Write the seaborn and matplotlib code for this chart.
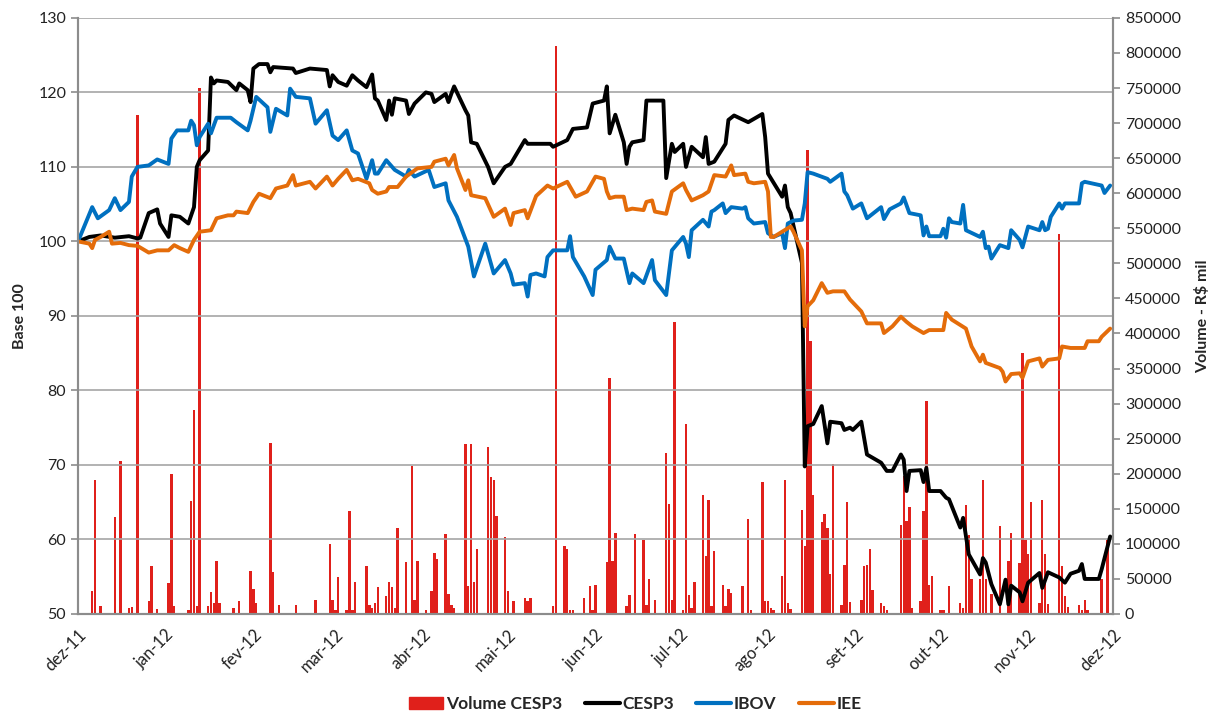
import pandas as pd
import seaborn as sns
import matplotlib.pyplot as plt
from matplotlib.patches import Patch
from matplotlib.lines import Line2D
from matplotlib.ticker import StrMethodFormatter

sns.set_style("white")
plt.rcParams['font.family'] = ['Lato', 'DejaVu Sans']

# ---- data ----
month_ticks = ["2011-12-01", "2012-01-01", "2012-02-01", "2012-03-01", "2012-04-01", "2012-05-01",
               "2012-06-01", "2012-07-01", "2012-08-01", "2012-09-01", "2012-10-01", "2012-11-01", "2012-12-01"]
month_labels = ["dez-11", "jan-12", "fev-12", "mar-12", "abr-12", "mai-12",
                "jun-12", "jul-12", "ago-12", "set-12", "out-12", "nov-12", "dez-12"]

ibov_dates = [
    "2011-12-01", "2011-12-06", "2011-12-08", "2011-12-12", "2011-12-14", "2011-12-16", "2011-12-19", "2011-12-20",
    "2011-12-22", "2011-12-26", "2011-12-29", "2012-01-02", "2012-01-03", "2012-01-05", "2012-01-09", "2012-01-10",
    "2012-01-11", "2012-01-12", "2012-01-13", "2012-01-16", "2012-01-17", "2012-01-19", "2012-01-24", "2012-01-26",
    "2012-01-30", "2012-01-31", "2012-02-02", "2012-02-06", "2012-02-07", "2012-02-09", "2012-02-13", "2012-02-14",
    "2012-02-16", "2012-02-21", "2012-02-23", "2012-02-27", "2012-02-29", "2012-03-02", "2012-03-05", "2012-03-07",
    "2012-03-09", "2012-03-12", "2012-03-14", "2012-03-15", "2012-03-16", "2012-03-19", "2012-03-22", "2012-03-26",
    "2012-03-27", "2012-03-29", "2012-04-03", "2012-04-05", "2012-04-09", "2012-04-10", "2012-04-13", "2012-04-17",
    "2012-04-19", "2012-04-23", "2012-04-26", "2012-04-30", "2012-05-02", "2012-05-03", "2012-05-07", "2012-05-08",
    "2012-05-09", "2012-05-11", "2012-05-14", "2012-05-15", "2012-05-17", "2012-05-22", "2012-05-23", "2012-05-24",
    "2012-05-28", "2012-05-31", "2012-06-01", "2012-06-05", "2012-06-06", "2012-06-08", "2012-06-11", "2012-06-13",
    "2012-06-14", "2012-06-18", "2012-06-21", "2012-06-22", "2012-06-26", "2012-06-28", "2012-07-02", "2012-07-03",
    "2012-07-04", "2012-07-05", "2012-07-09", "2012-07-11", "2012-07-12", "2012-07-13", "2012-07-16", "2012-07-17",
    "2012-07-19", "2012-07-23", "2012-07-24", "2012-07-25", "2012-07-27", "2012-07-31", "2012-08-01", "2012-08-03",
    "2012-08-06", "2012-08-07", "2012-08-08", "2012-08-10", "2012-08-13", "2012-08-14", "2012-08-15", "2012-08-17",
    "2012-08-22", "2012-08-23", "2012-08-27", "2012-08-28", "2012-08-29", "2012-08-31", "2012-09-03", "2012-09-05",
    "2012-09-10", "2012-09-11", "2012-09-13", "2012-09-17", "2012-09-18", "2012-09-20", "2012-09-24", "2012-09-25",
    "2012-09-26", "2012-09-27", "2012-10-01", "2012-10-02", "2012-10-03", "2012-10-04", "2012-10-05", "2012-10-08",
    "2012-10-09", "2012-10-10", "2012-10-15", "2012-10-16", "2012-10-17", "2012-10-18", "2012-10-19", "2012-10-22",
    "2012-10-25", "2012-10-26", "2012-10-29", "2012-10-30", "2012-11-01", "2012-11-05", "2012-11-06", "2012-11-07",
    "2012-11-08", "2012-11-09", "2012-11-12", "2012-11-13", "2012-11-14", "2012-11-19", "2012-11-20", "2012-11-21",
    "2012-11-27", "2012-11-28", "2012-11-30"]
ibov_values = [
    100.0, 104.6, 103.1, 104.2, 105.8, 104.2, 105.3, 108.7,
    110.0, 110.2, 111.0, 110.4, 113.8, 114.9, 114.9, 116.2,
    115.6, 112.9, 114.0, 115.8, 114.5, 116.6, 116.6, 116.0,
    114.9, 116.2, 119.4, 118.0, 114.7, 117.8, 116.9, 120.5,
    119.4, 119.2, 115.8, 117.6, 114.2, 113.6, 114.9, 112.2,
    111.8, 108.4, 110.9, 109.1, 109.1, 110.9, 109.6, 108.7,
    109.6, 108.7, 109.6, 107.3, 107.8, 105.5, 103.3, 99.3,
    95.3, 99.7, 95.7, 97.5, 95.7, 94.2, 94.4, 92.6,
    95.5, 95.7, 95.3, 97.9, 98.8, 98.8, 100.7, 97.9,
    95.3, 92.8, 96.2, 97.5, 99.3, 97.7, 97.7, 94.4,
    95.7, 94.4, 97.5, 94.8, 92.8, 98.8, 100.6, 99.7,
    97.9, 101.5, 102.9, 102.0, 104.0, 104.2, 105.1, 103.8,
    104.6, 104.4, 104.6, 103.1, 102.4, 102.6, 101.1, 100.6,
    101.1, 99.1, 102.4, 102.8, 102.9, 105.1, 109.3, 109.1,
    108.4, 108.0, 109.1, 106.7, 106.2, 104.4, 105.1, 103.1,
    104.6, 103.0, 104.3, 105.1, 105.9, 103.8, 103.5, 100.8,
    102.0, 100.7, 100.7, 101.7, 100.5, 103.1, 102.6, 102.4,
    104.9, 101.5, 100.6, 101.3, 99.1, 99.3, 97.7, 99.5,
    99.1, 101.5, 100.2, 99.2, 102.0, 101.5, 102.6, 101.5,
    101.7, 103.3, 105.1, 104.4, 105.1, 105.1, 107.8, 108.0,
    107.5, 106.5, 107.5]

cesp3_dates = [
    "2011-12-01", "2011-12-05", "2011-12-09", "2011-12-14", "2011-12-19", "2011-12-22", "2011-12-23", "2011-12-26",
    "2011-12-29", "2011-12-30", "2012-01-02", "2012-01-03", "2012-01-06", "2012-01-09", "2012-01-11", "2012-01-12",
    "2012-01-13", "2012-01-16", "2012-01-17", "2012-01-18", "2012-01-19", "2012-01-23", "2012-01-26", "2012-01-27",
    "2012-01-30", "2012-01-31", "2012-02-01", "2012-02-03", "2012-02-06", "2012-02-07", "2012-02-08", "2012-02-15",
    "2012-02-16", "2012-02-21", "2012-02-27", "2012-02-28", "2012-02-29", "2012-03-02", "2012-03-05", "2012-03-07",
    "2012-03-09", "2012-03-12", "2012-03-14", "2012-03-15", "2012-03-16", "2012-03-19", "2012-03-20", "2012-03-21",
    "2012-03-22", "2012-03-26", "2012-03-27", "2012-03-29", "2012-04-02", "2012-04-04", "2012-04-05", "2012-04-09",
    "2012-04-10", "2012-04-11", "2012-04-12", "2012-04-16", "2012-04-17", "2012-04-18", "2012-04-20", "2012-04-24",
    "2012-04-26", "2012-04-30", "2012-05-02", "2012-05-07", "2012-05-08", "2012-05-16", "2012-05-17", "2012-05-22",
    "2012-05-24", "2012-05-29", "2012-05-31", "2012-06-04", "2012-06-05", "2012-06-06", "2012-06-08", "2012-06-11",
    "2012-06-12", "2012-06-13", "2012-06-14", "2012-06-18", "2012-06-19", "2012-06-25", "2012-06-26", "2012-06-28",
    "2012-06-29", "2012-07-02", "2012-07-03", "2012-07-05", "2012-07-09", "2012-07-10", "2012-07-11", "2012-07-13",
    "2012-07-17", "2012-07-18", "2012-07-20", "2012-07-25", "2012-07-30", "2012-07-31", "2012-08-01", "2012-08-06",
    "2012-08-07", "2012-08-08", "2012-08-09", "2012-08-13", "2012-08-14", "2012-08-15", "2012-08-17", "2012-08-20",
    "2012-08-22", "2012-08-23", "2012-08-27", "2012-08-28", "2012-08-30", "2012-08-31", "2012-09-03", "2012-09-05",
    "2012-09-10", "2012-09-12", "2012-09-14", "2012-09-17", "2012-09-18", "2012-09-19", "2012-09-20", "2012-09-24",
    "2012-09-25", "2012-09-26", "2012-09-27", "2012-10-01", "2012-10-03", "2012-10-04", "2012-10-08", "2012-10-09",
    "2012-10-11", "2012-10-15", "2012-10-16", "2012-10-17", "2012-10-19", "2012-10-22", "2012-10-24", "2012-10-25",
    "2012-10-26", "2012-10-29", "2012-10-30", "2012-11-01", "2012-11-05", "2012-11-06", "2012-11-08", "2012-11-12",
    "2012-11-14", "2012-11-16", "2012-11-19", "2012-11-20", "2012-11-21", "2012-11-26", "2012-11-27", "2012-11-30"]
cesp3_values = [
    100.0, 100.6, 100.8, 100.5, 100.7, 100.4, 100.5, 103.8,
    104.3, 102.4, 100.6, 103.5, 103.3, 102.4, 104.6, 110.0,
    110.9, 112.2, 122.0, 121.2, 121.6, 121.4, 120.3, 121.2,
    120.3, 118.7, 123.2, 123.8, 123.8, 122.7, 123.4, 123.2,
    122.6, 123.2, 123.0, 120.8, 122.3, 121.4, 120.9, 122.3,
    121.6, 120.7, 122.4, 119.2, 118.9, 116.3, 118.9, 117.0,
    119.2, 118.9, 117.1, 118.5, 120.0, 119.8, 118.7, 119.8,
    118.7, 119.8, 120.8, 117.6, 116.9, 113.3, 113.1, 110.0,
    107.8, 110.0, 110.4, 113.6, 113.1, 113.1, 112.7, 113.6,
    115.1, 115.3, 118.5, 118.9, 120.8, 114.5, 117.0, 113.3,
    110.4, 112.7, 113.3, 113.6, 118.9, 118.9, 108.5, 113.1,
    112.0, 113.1, 110.0, 112.7, 111.3, 114.0, 110.4, 110.7,
    113.1, 116.3, 116.9, 116.0, 117.1, 114.0, 109.1, 106.0,
    107.5, 104.6, 103.8, 97.1, 69.8, 75.2, 75.5, 77.9,
    72.9, 75.8, 75.6, 74.7, 75.0, 74.7, 75.8, 71.4,
    70.3, 69.2, 69.2, 71.4, 70.7, 66.5, 69.2, 69.3,
    67.7, 69.6, 66.5, 66.5, 65.6, 65.4, 61.6, 62.9,
    58.0, 55.3, 57.5, 56.9, 54.0, 51.3, 54.6, 51.3,
    53.8, 52.9, 51.7, 54.2, 55.5, 53.5, 55.6, 54.9,
    54.2, 55.4, 55.8, 56.7, 54.7, 54.7, 56.0, 60.4]

iee_dates = [
    "2011-12-01", "2011-12-05", "2011-12-06", "2011-12-07", "2011-12-09", "2011-12-12", "2011-12-13", "2011-12-16",
    "2011-12-19", "2011-12-22", "2011-12-26", "2011-12-29", "2012-01-02", "2012-01-04", "2012-01-06", "2012-01-09",
    "2012-01-11", "2012-01-13", "2012-01-17", "2012-01-19", "2012-01-23", "2012-01-25", "2012-01-26", "2012-01-30",
    "2012-02-01", "2012-02-03", "2012-02-07", "2012-02-09", "2012-02-13", "2012-02-15", "2012-02-16", "2012-02-21",
    "2012-02-23", "2012-02-27", "2012-02-29", "2012-03-02", "2012-03-05", "2012-03-07", "2012-03-09", "2012-03-13",
    "2012-03-14", "2012-03-16", "2012-03-19", "2012-03-20", "2012-03-23", "2012-03-26", "2012-03-30", "2012-04-04",
    "2012-04-05", "2012-04-09", "2012-04-10", "2012-04-12", "2012-04-13", "2012-04-16", "2012-04-17", "2012-04-18",
    "2012-04-23", "2012-04-26", "2012-04-30", "2012-05-02", "2012-05-03", "2012-05-07", "2012-05-08", "2012-05-10",
    "2012-05-11", "2012-05-15", "2012-05-17", "2012-05-22", "2012-05-25", "2012-05-29", "2012-06-01", "2012-06-04",
    "2012-06-05", "2012-06-06", "2012-06-08", "2012-06-11", "2012-06-12", "2012-06-14", "2012-06-18", "2012-06-19",
    "2012-06-21", "2012-06-22", "2012-06-26", "2012-06-28", "2012-07-02", "2012-07-03", "2012-07-05", "2012-07-09",
    "2012-07-11", "2012-07-13", "2012-07-17", "2012-07-19", "2012-07-20", "2012-07-24", "2012-07-25", "2012-07-27",
    "2012-07-31", "2012-08-01", "2012-08-02", "2012-08-03", "2012-08-06", "2012-08-09", "2012-08-10", "2012-08-13",
    "2012-08-14", "2012-08-15", "2012-08-17", "2012-08-20", "2012-08-22", "2012-08-24", "2012-08-28", "2012-08-30",
    "2012-09-03", "2012-09-05", "2012-09-07", "2012-09-10", "2012-09-11", "2012-09-14", "2012-09-17", "2012-09-19",
    "2012-09-21", "2012-09-25", "2012-09-27", "2012-10-02", "2012-10-03", "2012-10-05", "2012-10-10", "2012-10-12",
    "2012-10-15", "2012-10-16", "2012-10-17", "2012-10-22", "2012-10-23", "2012-10-24", "2012-10-26", "2012-10-29",
    "2012-10-30", "2012-11-01", "2012-11-05", "2012-11-06", "2012-11-08", "2012-11-12", "2012-11-13", "2012-11-16",
    "2012-11-21", "2012-11-22", "2012-11-26", "2012-11-27", "2012-11-30"]
iee_values = [
    100.0, 99.7, 99.1, 100.2, 100.6, 101.3, 99.7, 99.8,
    99.5, 99.4, 98.5, 98.8, 98.8, 99.5, 99.1, 98.6,
    100.2, 101.3, 101.5, 103.1, 103.5, 103.5, 104.0, 103.8,
    105.3, 106.4, 105.8, 107.1, 107.5, 108.9, 107.5, 108.0,
    107.1, 108.7, 107.5, 108.4, 109.6, 108.2, 108.4, 107.8,
    106.9, 106.4, 106.7, 107.3, 107.3, 108.7, 109.8, 110.0,
    110.7, 111.1, 110.2, 111.6, 109.8, 106.9, 108.2, 106.2,
    105.8, 103.3, 104.4, 102.2, 103.8, 104.2, 103.1, 105.1,
    106.1, 107.5, 107.1, 108.0, 106.0, 106.7, 108.7, 108.4,
    106.7, 105.8, 106.0, 106.0, 104.2, 104.4, 104.2, 105.3,
    105.5, 104.0, 103.7, 106.7, 107.8, 106.9, 105.5, 106.2,
    106.7, 108.9, 108.7, 110.2, 108.9, 109.1, 108.0, 107.8,
    108.0, 106.7, 100.6, 100.6, 101.3, 102.0, 101.3, 98.8,
    88.6, 91.3, 92.1, 94.4, 93.1, 93.3, 93.3, 92.2,
    90.6, 89.0, 89.0, 89.0, 87.7, 88.6, 89.9, 89.2,
    88.6, 87.7, 88.1, 88.1, 90.4, 89.5, 88.3, 85.9,
    83.9, 84.8, 83.7, 83.0, 82.5, 81.2, 82.2, 82.3,
    81.7, 83.9, 84.3, 83.2, 84.1, 84.3, 85.9, 85.7,
    85.7, 86.6, 86.6, 87.2, 88.3]

# volume CESP3, R$ mil
vol_dates = [
    "2011-12-01", "2011-12-06", "2011-12-07", "2011-12-09", "2011-12-12", "2011-12-14", "2011-12-16", "2011-12-19",
    "2011-12-20", "2011-12-22", "2011-12-26", "2011-12-27", "2011-12-29", "2012-01-02", "2012-01-03", "2012-01-04",
    "2012-01-09", "2012-01-10", "2012-01-11", "2012-01-12", "2012-01-13", "2012-01-16", "2012-01-17", "2012-01-18",
    "2012-01-19", "2012-01-20", "2012-01-25", "2012-01-26", "2012-01-27", "2012-01-30", "2012-01-31", "2012-02-01",
    "2012-02-02", "2012-02-07", "2012-02-08", "2012-02-10", "2012-02-16", "2012-02-20", "2012-02-23", "2012-02-24",
    "2012-02-28", "2012-02-29", "2012-03-01", "2012-03-02", "2012-03-05", "2012-03-06", "2012-03-07", "2012-03-08",
    "2012-03-12", "2012-03-13", "2012-03-14", "2012-03-15", "2012-03-16", "2012-03-19", "2012-03-20", "2012-03-21",
    "2012-03-22", "2012-03-23", "2012-03-26", "2012-03-28", "2012-03-29", "2012-03-30", "2012-04-02", "2012-04-04",
    "2012-04-05", "2012-04-06", "2012-04-09", "2012-04-10", "2012-04-11", "2012-04-12", "2012-04-16", "2012-04-17",
    "2012-04-18", "2012-04-19", "2012-04-20", "2012-04-24", "2012-04-25", "2012-04-26", "2012-04-27", "2012-04-30",
    "2012-05-01", "2012-05-02", "2012-05-03", "2012-05-07", "2012-05-08", "2012-05-09", "2012-05-15", "2012-05-17",
    "2012-05-18", "2012-05-21", "2012-05-22", "2012-05-23", "2012-05-24", "2012-05-28", "2012-05-29", "2012-05-30",
    "2012-05-31", "2012-06-01", "2012-06-05", "2012-06-06", "2012-06-07", "2012-06-08", "2012-06-12", "2012-06-13",
    "2012-06-15", "2012-06-18", "2012-06-19", "2012-06-20", "2012-06-22", "2012-06-26", "2012-06-27", "2012-06-28",
    "2012-06-29", "2012-07-02", "2012-07-03", "2012-07-04", "2012-07-05", "2012-07-06", "2012-07-09", "2012-07-10",
    "2012-07-11", "2012-07-12", "2012-07-13", "2012-07-16", "2012-07-17", "2012-07-18", "2012-07-19", "2012-07-20",
    "2012-07-23", "2012-07-24", "2012-07-25", "2012-07-26", "2012-07-30", "2012-07-31", "2012-08-01", "2012-08-02",
    "2012-08-03", "2012-08-06", "2012-08-07", "2012-08-08", "2012-08-09", "2012-08-13", "2012-08-14", "2012-08-15",
    "2012-08-16", "2012-08-17", "2012-08-20", "2012-08-21", "2012-08-22", "2012-08-23", "2012-08-24", "2012-08-27",
    "2012-08-28", "2012-08-29", "2012-08-30", "2012-09-03", "2012-09-04", "2012-09-05", "2012-09-06", "2012-09-07",
    "2012-09-10", "2012-09-11", "2012-09-12", "2012-09-17", "2012-09-18", "2012-09-19", "2012-09-20", "2012-09-21",
    "2012-09-24", "2012-09-25", "2012-09-26", "2012-09-27", "2012-09-28", "2012-10-01", "2012-10-02", "2012-10-04",
    "2012-10-08", "2012-10-09", "2012-10-10", "2012-10-11", "2012-10-12", "2012-10-15", "2012-10-16", "2012-10-17",
    "2012-10-19", "2012-10-22", "2012-10-25", "2012-10-26", "2012-10-29", "2012-10-30", "2012-10-31", "2012-11-01",
    "2012-11-02", "2012-11-05", "2012-11-06", "2012-11-07", "2012-11-08", "2012-11-09", "2012-11-12", "2012-11-13",
    "2012-11-14", "2012-11-15", "2012-11-16", "2012-11-19", "2012-11-20", "2012-11-21", "2012-11-22", "2012-11-27",
    "2012-11-29"]
vol_values = [
    6000, 33000, 191000, 11000, 2000, 138000, 218000, 8000,
    10000, 712000, 18000, 68000, 7000, 44000, 200000, 11000,
    5000, 161000, 291000, 11000, 750000, 11000, 31000, 15000,
    76000, 15000, 9000, 2000, 18000, 2000, 61000, 36000,
    15000, 244000, 60000, 13000, 13000, 2000, 20000, 2000,
    100000, 20000, 5000, 53000, 5000, 147000, 5000, 46000,
    68000, 13000, 9000, 15000, 38000, 26000, 46000, 38000,
    9000, 123000, 74000, 211000, 20000, 76000, 5000, 33000,
    87000, 78000, 114000, 28000, 13000, 9000, 242000, 40000,
    242000, 46000, 92000, 238000, 195000, 191000, 139000, 110000,
    33000, 2000, 18000, 23000, 18000, 23000, 2000, 11000,
    810000, 97000, 92000, 5000, 5000, 23000, 2000, 40000,
    5000, 42000, 74000, 336000, 76000, 115000, 11000, 27000,
    114000, 106000, 13000, 50000, 20000, 229000, 157000, 20000,
    416000, 5000, 271000, 27000, 9000, 46000, 169000, 82000,
    162000, 11000, 90000, 42000, 11000, 36000, 30000, 2000,
    40000, 2000, 135000, 5000, 188000, 18000, 18000, 9000,
    5000, 54000, 191000, 15000, 7000, 148000, 97000, 662000,
    389000, 169000, 131000, 143000, 123000, 57000, 214000, 13000,
    70000, 160000, 17000, 20000, 68000, 70000, 92000, 34000,
    15000, 11000, 5000, 127000, 197000, 133000, 153000, 9000,
    18000, 147000, 304000, 42000, 54000, 5000, 5000, 40000,
    15000, 9000, 155000, 113000, 50000, 50000, 191000, 50000,
    28000, 125000, 76000, 115000, 73000, 372000, 105000, 85000,
    160000, 15000, 162000, 85000, 14000, 2000, 542000, 68000,
    26000, 10000, 2000, 13000, 6000, 20000, 5000, 50000,
    105000]

series_names = ["CESP3", "IBOV", "IEE"]
colors = {"CESP3": "#000000", "IBOV": "#0070C0", "IEE": "#E46C0A"}
bar_color = "#E0201B"
grid_color = "#a6a6a6"
spine_color = "#8c8c8c"

lines = pd.concat([
    pd.DataFrame({"data": pd.to_datetime(cesp3_dates), "valor": cesp3_values, "serie": "CESP3"}),
    pd.DataFrame({"data": pd.to_datetime(ibov_dates), "valor": ibov_values, "serie": "IBOV"}),
    pd.DataFrame({"data": pd.to_datetime(iee_dates), "valor": iee_values, "serie": "IEE"}),
], ignore_index=True)

fig, ax = plt.subplots(figsize=(12.12, 7.15), dpi=100)
fig.subplots_adjust(left=0.0644, right=0.9183, top=0.975, bottom=0.1413)

# volume bars on the secondary axis, lines drawn above
ax2 = ax.twinx()
ax2.bar(pd.to_datetime(vol_dates), vol_values, width=0.85, color=bar_color, linewidth=0)
ax.set_zorder(ax2.get_zorder() + 1)
ax.patch.set_visible(False)

sns.lineplot(data=lines, x="data", y="valor", hue="serie", hue_order=series_names,
             palette=colors, estimator=None, linewidth=2.8, legend=False, ax=ax)
for ln in ax.get_lines():
    ln.set_solid_joinstyle("round")
    ln.set_solid_capstyle("round")

ax.set_xlim(pd.Timestamp(month_ticks[0]), pd.Timestamp(month_ticks[-1]))
ax.set_ylim(50, 130)
ax.set_yticks(range(50, 131, 10))
ax2.set_ylim(0, 850000)
ax2.set_yticks(range(0, 850001, 50000))
ax2.yaxis.set_major_formatter(StrMethodFormatter("{x:.0f}"))

ax.set_xticks(pd.to_datetime(month_ticks))
ax.set_xticklabels(month_labels, rotation=45, ha="right", rotation_mode="anchor")

ax.yaxis.grid(True, color=grid_color, linewidth=1.2)
ax.xaxis.grid(False)

for a in (ax, ax2):
    for side in ("left", "right", "bottom"):
        a.spines[side].set_color(spine_color)
        a.spines[side].set_linewidth(1.5)
    a.spines["top"].set_visible(False)
    a.tick_params(axis="both", colors=spine_color, length=5, width=1.2, labelsize=11.5,
                  labelcolor="#222222")
ax.tick_params(axis="x", labelsize=12, pad=4)

ax.set_xlabel("")
ax.set_ylabel("Base 100", fontweight="bold", fontsize=11.5, labelpad=8)
ax2.set_ylabel(r"Volume - R\$ mil", fontweight="bold", fontsize=11.5, labelpad=10)

handles = [Patch(color=bar_color),
           Line2D([0], [0], color=colors["CESP3"], lw=3),
           Line2D([0], [0], color=colors["IBOV"], lw=3),
           Line2D([0], [0], color=colors["IEE"], lw=3)]
fig.legend(handles, ["Volume CESP3", "CESP3", "IBOV", "IEE"], loc="lower center",
           bbox_to_anchor=(0.524, -0.018), ncol=4, frameon=False, handlelength=2.0,
           handletextpad=0.15, columnspacing=1.3, prop={"weight": "bold", "size": 12.5})

fig.savefig("out.png", dpi=100)
